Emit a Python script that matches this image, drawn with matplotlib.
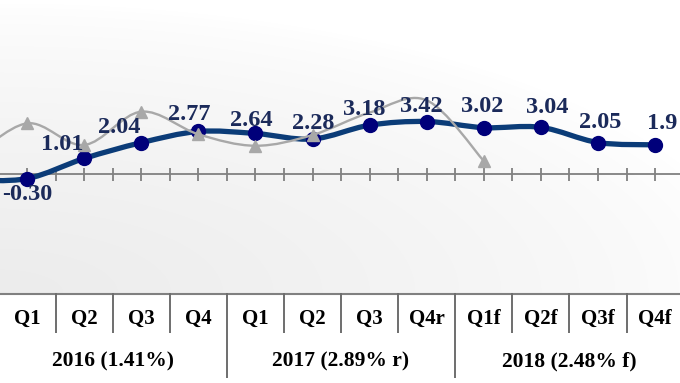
import numpy as np
import matplotlib
matplotlib.use('Agg')
import matplotlib.pyplot as plt
from matplotlib.path import Path
from matplotlib.patches import PathPatch

# ---------------- data ----------------
quarters = ['Q1', 'Q2', 'Q3', 'Q4', 'Q1', 'Q2', 'Q3', 'Q4r', 'Q1f', 'Q2f', 'Q3f', 'Q4f']
years = ['2016 (1.41%)', '2017 (2.89% r)', '2018 (2.48% f)']
# value of the quarter before Q1 2016 (cut off at the left edge)
gdp_prev = -0.40
gdp = [-0.30, 1.01, 2.04, 2.77, 2.64, 2.28, 3.18, 3.42, 3.02, 3.04, 2.05, 1.9]
gdp_labels = ['-0.30', '1.01', '2.04', '2.77', '2.64', '2.28', '3.18', '3.42',
              '3.02', '3.04', '2.05', '1.9']
grey_prev = 0.9
grey = [3.30, 1.89, 4.06, 2.59, 1.84, 2.54, 4.00, 4.80, 0.85]

# ---------------- styles ----------------
W, H = 680, 383
PLOT_BOTTOM = 293         # pixel row of the table's top line
ZERO_PX = 174             # pixel row of value 0
SCALE = 15.35             # pixels per unit
SPACING = 57.1            # pixels per quarter
X0 = 27                   # pixel column of first quarter

label_dx = [0, -22, -22, -9, -4, 1, -5, -5, -1.5, 6, 2, 7]
label_dy = [-5, 8, 10, 11, 7, 10, 10, 10, 16, 14, 15, 16]

navy_line = '#0b3c78'
navy_marker = '#00007a'
label_col = '#1b2a5a'
grey_col = '#a8a8a8'
axis_col = '#808080'
serif = ['Liberation Serif', 'DejaVu Serif']


def smooth_path(xs, ys):
    xs = np.asarray(xs, float)
    ys = np.asarray(ys, float)
    n = len(xs)
    verts = [(xs[0], ys[0])]
    codes = [Path.MOVETO]
    for i in range(n - 1):
        x0, y0 = xs[max(i - 1, 0)], ys[max(i - 1, 0)]
        x1, y1 = xs[i], ys[i]
        x2, y2 = xs[i + 1], ys[i + 1]
        x3, y3 = xs[min(i + 2, n - 1)], ys[min(i + 2, n - 1)]
        c1 = (x1 + (x2 - x0) / 6, y1 + (y2 - y0) / 6)
        c2 = (x2 - (x3 - x1) / 6, y2 - (y3 - y1) / 6)
        verts += [c1, c2, (x2, y2)]
        codes += [Path.CURVE4] * 3
    return Path(verts, codes)


fig = plt.figure(figsize=(W / 100, H / 100), dpi=100)
fig.patch.set_facecolor('white')

ax = fig.add_axes([0, 1 - PLOT_BOTTOM / H, 1, PLOT_BOTTOM / H])
xmin = -X0 / SPACING
xmax = (W - X0) / SPACING
ymax = ZERO_PX / SCALE
ymin = -(PLOT_BOTTOM - ZERO_PX) / SCALE
ax.set_xlim(xmin, xmax)
ax.set_ylim(ymin, ymax)
ax.axis('off')

# background gradient
yy, xx = np.mgrid[0:PLOT_BOTTOM, 0:W]
d = np.sqrt((xx / 760.0) ** 2 + ((PLOT_BOTTOM - yy) / 290.0) ** 2)
g = np.clip(1 - d, 0, 1) ** 0.7
v = 1 - 0.075 * g
img = np.dstack([v, v, v])
ax.imshow(img, extent=[xmin, xmax, ymin, ymax], aspect='auto', origin='upper', zorder=0)

# zero axis with ticks
ax.axhline(0, color=axis_col, lw=1.3, zorder=1)
tick_x = np.arange(-0.5, len(gdp) + 0.5, 0.5)
half = 6.5 / SCALE
ax.vlines(tick_x, -half, half, color=axis_col, lw=1.3, zorder=1)

# dark GDP line (smoothed)
xg = np.arange(-1, len(gdp))
yg = [gdp_prev] + gdp
ax.add_patch(PathPatch(smooth_path(xg, yg), fill=False, edgecolor=navy_line,
                       lw=3.8, capstyle='round', zorder=3))
ax.plot(np.arange(len(gdp)), gdp, ls='none', marker='o', ms=10,
        mfc=navy_marker, mec=navy_marker, zorder=4)

# grey line (smoothed)
xr = np.arange(-1, len(grey))
yr = [grey_prev] + grey
ax.add_patch(PathPatch(smooth_path(xr, yr), fill=False, edgecolor=grey_col,
                       lw=1.7, zorder=5))
vis = [0, 1, 2, 3, 4, 5, 8]
ax.plot([i for i in vis], [grey[i] for i in vis], ls='none', marker='^', ms=9,
        mfc=grey_col, mec=grey_col, zorder=5)

# data labels
for i, (val, lab) in enumerate(zip(gdp, gdp_labels)):
    ax.annotate(lab, (i, val), xytext=(label_dx[i], label_dy[i]),
                textcoords='offset pixels', ha='center',
                va='top' if label_dy[i] < 0 else 'baseline',
                fontsize=17.5, fontweight='bold', family=serif,
                color=label_col, zorder=6, annotation_clip=False)

# ---------------- category table ----------------
tab = fig.add_axes([0, 0, 1, 1 - PLOT_BOTTOM / H])
tab.set_xlim(xmin, xmax)
tab.set_ylim(H, PLOT_BOTTOM)
tab.axis('off')
tab.axhline(PLOT_BOTTOM + 0.5, color=axis_col, lw=1.5, clip_on=False)
for k in range(len(quarters) - 1):
    xb = k + 0.5
    bottom = 378 if k in (3, 7) else 333
    tab.plot([xb, xb], [PLOT_BOTTOM, bottom], color='#6e6e6e', lw=1.4,
             solid_capstyle='butt', clip_on=False)
for i, q in enumerate(quarters):
    tab.text(i, 319, q, ha='center', va='center', fontsize=15,
             fontweight='bold', family=serif, color='black')
for j, yl in enumerate(years):
    tab.text(1.5 + 4 * j, 361, yl, ha='center', va='center', fontsize=15.5,
             fontweight='bold', family=serif, color='black')

fig.savefig('out.png', dpi=100)
